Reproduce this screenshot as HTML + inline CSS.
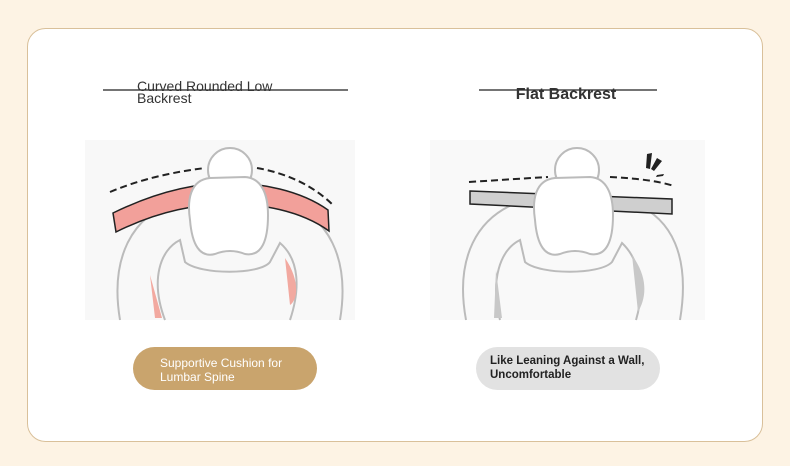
<!DOCTYPE html>
<html><head><meta charset="utf-8"><style>
body{margin:0;width:790px;height:461px;background:#fdf3e4;font-family:"Liberation Sans",sans-serif;overflow:hidden}
</style></head><body>
<svg width="790" height="461" xmlns="http://www.w3.org/2000/svg" font-family="Liberation Sans, sans-serif">
<rect x="27.5" y="28.5" width="735" height="413" rx="18" fill="#fff" stroke="#d9c09a"/>
<rect x="85" y="140" width="270" height="180" fill="#f8f8f8"/>
<rect x="430" y="140" width="275" height="180" fill="#f9f9f9"/>
<line x1="103" y1="90" x2="348" y2="90" stroke="#222" stroke-width="1.3"/>
<text x="137" y="91" font-size="14" fill="#333">Curved Rounded Low</text>
<text x="137" y="103" font-size="14" fill="#333">Backrest</text>
<line x1="479" y1="90" x2="657" y2="90" stroke="#222" stroke-width="1.3"/>
<text x="566" y="99" font-size="16" font-weight="bold" fill="#333" text-anchor="middle">Flat Backrest</text>
<g fill="none" stroke="#bbb" stroke-width="2">
<path d="M120 320 C110 260 130 215 180 200 M280 200 C330 215 350 260 340 320"/>
<path d="M165 320 C150 280 160 250 180 240 L185 262 C200 275 260 275 270 262 L280 243 C300 260 300 290 290 320"/>
<circle cx="230" cy="170" r="22" fill="#fff"/>
<path d="M466 320 C455 260 475 215 525 200 M625 200 C675 215 690 260 680 320"/>
<path d="M500 320 C490 280 500 250 520 240 L525 262 C540 275 600 275 612 262 L622 243 C640 260 645 290 636 320"/>
<circle cx="577" cy="170" r="22" fill="#fff"/>
</g>
<path d="M150 275 L155 318 L162 318 Z M285 258 C300 280 298 300 290 305 Z" fill="#f2a9a0"/>
<path d="M496 270 L494 318 L502 318 Z M632 255 C650 280 645 300 638 312 Z" fill="#c8c8c8"/>
<path d="M113 213 C160 190 200 183 230 183 C260 183 300 190 328 210 L329 231 C300 210 260 204 230 204 C200 204 160 210 116 232 Z" fill="#f2a09a" stroke="#222" stroke-width="1.5"/>
<path d="M110 192 C150 175 190 170 205 168 M257 168 C280 172 310 182 334 206" fill="none" stroke="#222" stroke-width="2" stroke-dasharray="7,4"/>
<path d="M470 191 L672 199 L672 214 L470 204 Z" fill="#cfcfcf" stroke="#222" stroke-width="1.5"/>
<path d="M469 182 C500 180 530 178 548 177 M610 177 C630 178 655 180 674 186" fill="none" stroke="#222" stroke-width="2" stroke-dasharray="7,4"/>
<path d="M647 154 L652 153 L650 169 L646 168 Z M657 158 L662 161 L654 171 L651 169 Z M657 175 L664 174 L663 176 L656 177 Z" fill="#222"/>
<path d="M210 178 C190 180 187 200 190 220 C192 245 200 258 215 254 C225 250 235 250 245 254 C262 257 268 240 268 215 C268 195 262 178 245 177 Z" fill="#fff" stroke="#bbb" stroke-width="2"/>
<path d="M555 178 C535 180 532 200 535 220 C537 245 545 258 560 254 C570 250 580 250 590 254 C607 257 613 240 613 215 C613 195 607 178 590 177 Z" fill="#fff" stroke="#bbb" stroke-width="2"/>
<rect x="133" y="347" width="184" height="43" rx="21.5" fill="#c9a46d"/>
<text x="160" y="367" font-size="12" fill="#fff">Supportive Cushion for</text>
<text x="160" y="381" font-size="12" fill="#fff">Lumbar Spine</text>
<rect x="476" y="347" width="184" height="43" rx="21.5" fill="#e2e2e2"/>
<text x="490" y="364" font-size="11.5" font-weight="bold" fill="#222">Like Leaning Against a Wall,</text>
<text x="490" y="378" font-size="11.5" font-weight="bold" fill="#222">Uncomfortable</text>
</svg>
</body></html>
